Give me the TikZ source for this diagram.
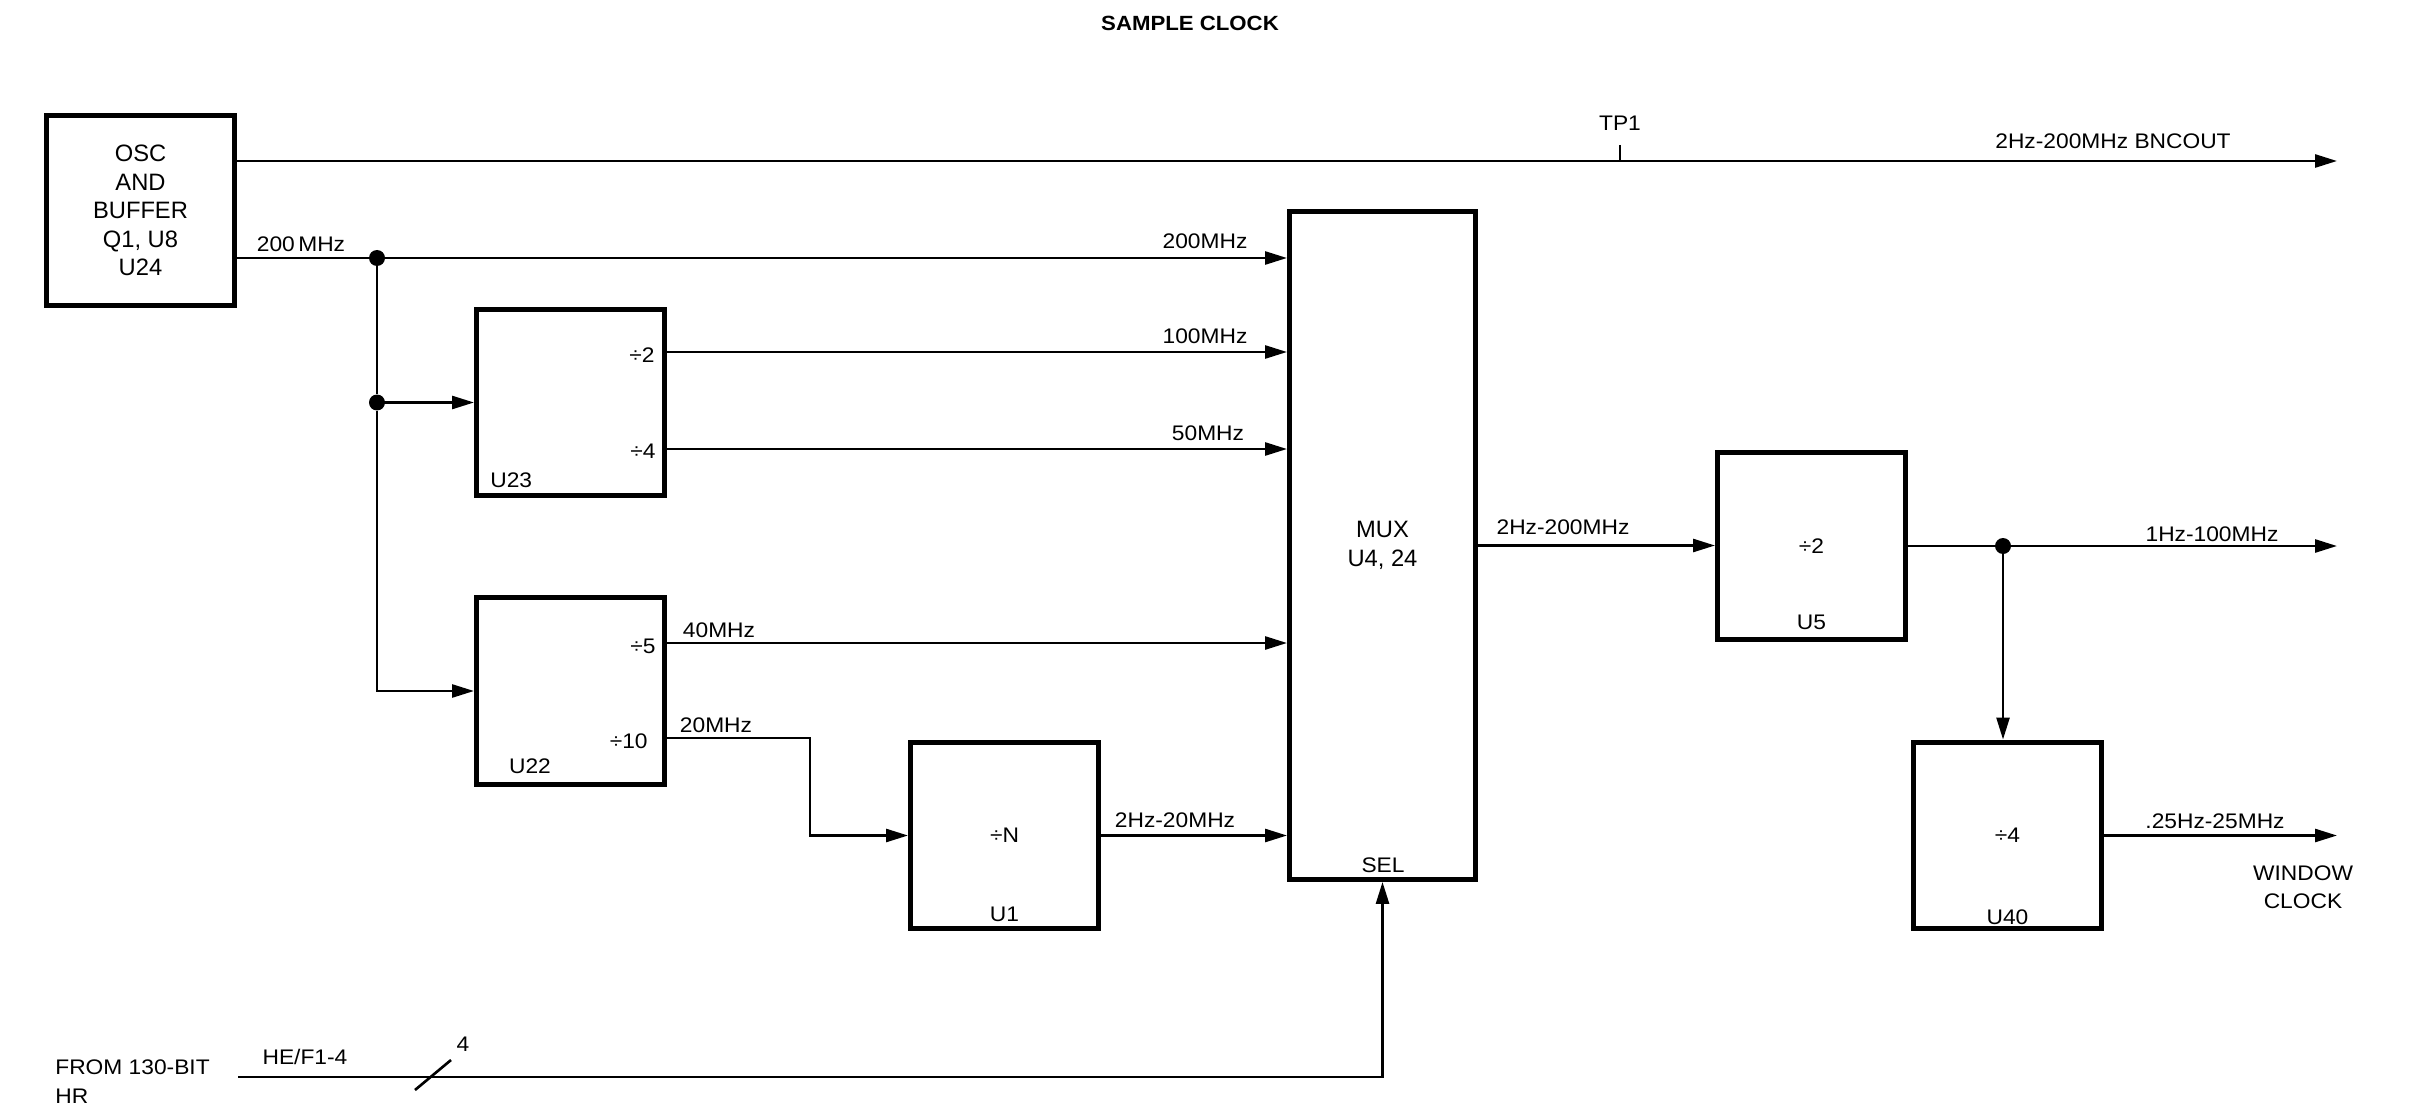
\documentclass[tikz,border=0pt]{standalone}
\usepackage{fontspec}
\setmainfont{Liberation Sans}
\newfontfamily\labelfont[FakeStretch=1.08]{Liberation Sans}
\usetikzlibrary{arrows.meta}

\tikzset{
  block/.style={draw, line width=0.1cm, minimum width=3.76cm, minimum height=3.74cm,
    inner sep=0pt, align=center, font=\labelfont\fontsize{12}{14}\selectfont},
  bigtext/.style={font=\fontsize{13.5}{16.2}\selectfont},
  sig/.style={line width=0.052cm, ->},
  wire/.style={line width=0.052cm},
  lbl/.style={font=\labelfont\fontsize{12}{14}\selectfont, inner sep=0pt},
  dot/.style={circle, fill, inner sep=0pt, minimum size=0.32cm},
}

\begin{document}
\begin{tikzpicture}[x=0.02cm, y=-0.02cm, >={Triangle[length=0.44cm,width=0.26cm]}]
    \useasboundingbox (0,0) rectangle (2409,1111);

    % blocks
    \node[block, bigtext, minimum height=3.8cm] (osc) at (140.5,210.5) {OSC\\AND\\BUFFER\\Q1, U8\\U24};
    \node[block] (u23) at (570.5,402.5) {};
    \node[block] (u22) at (570.5,691) {};
    \node[block] (u1) at (1004.5,835.5) {÷N};
    \node[block, bigtext, minimum height=13.36cm, minimum width=3.72cm] (mux) at (1382.5,545.5) {MUX\\U4, 24};
    \node[block] (u5) at (1811.5,546) {÷2};
    \node[block] (u40) at (2007.5,835.5) {÷4};

    % signal levels and free ends
    \coordinate (bnc) at (2337,161);
    \coordinate (tp) at (1620,145);
    \coordinate (lv100) at (0,352);
    \coordinate (lv50) at (0,449);
    \coordinate (lv40) at (0,643);
    \coordinate (bend) at (810,738);
    \coordinate (out1) at (2337,546);
    \coordinate (out2) at (2337,835.5);
    \coordinate (selin) at (238,1077);
    \coordinate (sl1) at (415,1090);
    \coordinate (sl2) at (451,1060);

    \node[dot] (j1) at (377,258) {};
    \node[dot] (j2) at (377,402.5) {};
    \node[dot] (j3) at (2003,546) {};

    % connectors
    \draw[sig] (osc.east |- bnc) -- (bnc);
    \draw[wire] (tp) -- (tp |- bnc);
    \draw[wire] (osc.east |- j1) -- (j1);
    \draw[sig] (j1) -- (mux.west |- j1);
    \draw[wire] (j1) -- (j2);
    \draw[sig] (j2) -- (u23.west);
    \draw[sig] (j2) |- (u22.west);
    \draw[sig] (u23.east |- lv100) -- (mux.west |- lv100);
    \draw[sig] (u23.east |- lv50) -- (mux.west |- lv50);
    \draw[sig] (u22.east |- lv40) -- (mux.west |- lv40);
    \draw[sig] (u22.east |- bend) -- (bend) |- (u1.west);
    \draw[sig] (u1.east) -- (mux.west |- u1.east);
    \draw[sig] (mux.east) -- (u5.west |- mux.east);
    \draw[wire] (u5.east) -- (j3);
    \draw[sig] (j3) -- (out1);
    \draw[sig] (j3) -- (j3 |- u40.north);
    \draw[sig] (u40.east) -- (out2);
    \draw[sig] (selin) -| (mux.south);
    \draw[wire] (sl1) -- (sl2);

    % labels
    \node[lbl, font=\labelfont\bfseries\fontsize{11.7}{14}\selectfont] (title) at (1190,23) {SAMPLE CLOCK};
    \node[lbl] (tp1) at (1620,123) {TP1};
    \node[lbl] (bnclbl) at (2113,141) {2Hz-200MHz BNCOUT};
    \node[lbl] (f200a) at (301,244) {200\,MHz};
    \node[lbl] (f200b) at (1205,241) {200MHz};
    \node[lbl] (f100) at (1205,336) {100MHz};
    \node[lbl] (f50) at (1208,433) {50MHz};
    \node[lbl] (f40) at (719,630) {40MHz};
    \node[lbl] (f20) at (716,725) {20MHz};
    \node[lbl] (fn) at (1175,820) {2Hz-20MHz};
    \node[lbl] (fmux) at (1563,527) {2Hz-200MHz};
    \node[lbl] (f1) at (2212,534) {1Hz-100MHz};
    \node[lbl] (f25) at (2215,821) {.25Hz-25MHz};
    \node[lbl, align=center, font=\labelfont\fontsize{12}{16}\selectfont] (win) at (2303,887) {WINDOW\\CLOCK};
    \node[lbl, anchor=base west] (from) at (55,1074) {FROM 130-BIT};
    \node[lbl, anchor=base west] (hr) at (55,1103) {HR};
    \node[lbl] (hef) at (305,1057) {HE/F1-4};
    \node[lbl] (four) at (463,1044) {4};

    % texts inside the blocks
    \node[lbl, anchor=east] (d2) at (655,355) {÷2};
    \node[lbl, anchor=east] (d4) at (656,451) {÷4};
    \node[lbl, anchor=west] (u23lbl) at (490,480) {U23};
    \node[lbl, anchor=east] (d5) at (656,646) {÷5};
    \node[lbl, anchor=east] (d10) at (648,741) {÷10};
    \node[lbl] (u22lbl) at (530,766) {U22};
    \node[lbl] (u1lbl) at (1004.5,914) {U1};
    \node[lbl] (sel) at (1383,865) {SEL};
    \node[lbl] (u5lbl) at (1811.5,622) {U5};
    \node[lbl] (u40lbl) at (2007.5,917) {U40};
\end{tikzpicture}
\end{document}
